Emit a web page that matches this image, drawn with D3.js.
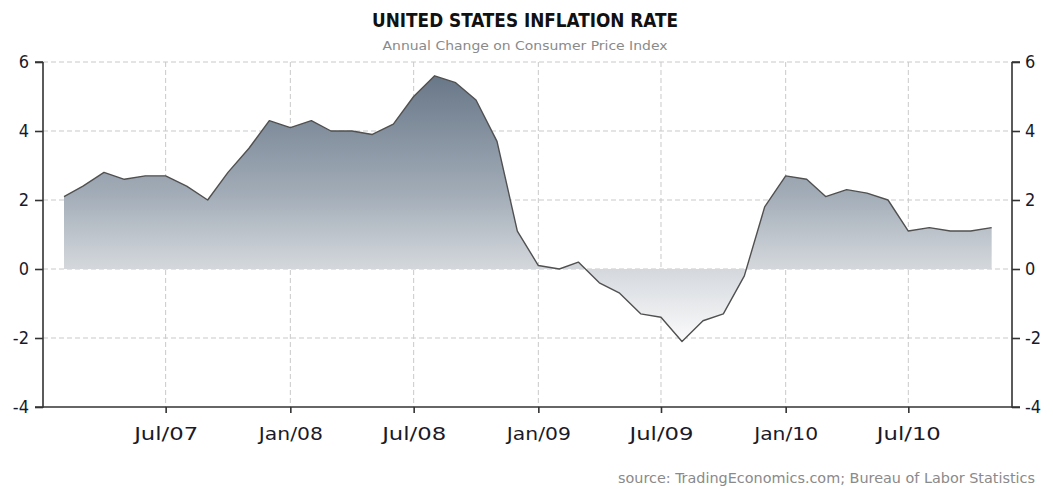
<!DOCTYPE html>
<html>
<head>
<meta charset="utf-8">
<script src="https://cdn.jsdelivr.net/npm/d3@7/dist/d3.min.js"></script>
<style>
  html, body { margin: 0; padding: 0; background: #fff; }
  svg { display: block; }
  text { font-family: "DejaVu Sans Condensed", "Liberation Sans Narrow", sans-serif; }
</style>
</head>
<body>
<svg id="chart" width="1053" height="489"></svg>
<script>
// Monthly CPI YoY (month of observation)
const months = [
  "2007-01","2007-02","2007-03","2007-04","2007-05","2007-06","2007-07","2007-08","2007-09","2007-10","2007-11","2007-12",
  "2008-01","2008-02","2008-03","2008-04","2008-05","2008-06","2008-07","2008-08","2008-09","2008-10","2008-11","2008-12",
  "2009-01","2009-02","2009-03","2009-04","2009-05","2009-06","2009-07","2009-08","2009-09","2009-10","2009-11","2009-12",
  "2010-01","2010-02","2010-03","2010-04","2010-05","2010-06","2010-07","2010-08","2010-09","2010-10"
];
const values = [
  2.1, 2.4, 2.8, 2.6, 2.7, 2.7, 2.4, 2.0, 2.8, 3.5, 4.3, 4.1,
  4.3, 4.0, 4.0, 3.9, 4.2, 5.0, 5.6, 5.4, 4.9, 3.7, 1.1, 0.1,
  0.0, 0.2, -0.4, -0.7, -1.3, -1.4, -2.1, -1.5, -1.3, -0.2, 1.8, 2.7,
  2.6, 2.1, 2.3, 2.2, 2.0, 1.1, 1.2, 1.1, 1.1, 1.2
];
const yTicks = [-4, -2, 0, 2, 4, 6];
const xTickDates = ["2007-07","2008-01","2008-07","2009-01","2009-07","2010-01","2010-07"];
const xDomain = ["2007-01","2010-12"];
const titleText = "UNITED STATES INFLATION RATE";
const subtitleText = "Annual Change on Consumer Price Index";
const sourceText = "source: TradingEconomics.com; Bureau of Labor Statistics";

const parse = d3.timeParse("%Y-%m");
const fmt = d3.timeFormat("%b/%y");
// each observation is plotted at the end of its month
const data = months.map((m, i) => ({ date: d3.timeMonth.offset(parse(m), 1), value: values[i] }));

const svg = d3.select("#chart");
const L = 43, R = 1012, T = 62, B = 407;

const x = d3.scaleTime().domain(xDomain.map(parse)).range([L, R]);
const y = d3.scaleLinear().domain([-4, 6]).range([B, T]);

// gradient
const defs = svg.append("defs");
const grad = defs.append("linearGradient")
  .attr("id", "areaGrad")
  .attr("gradientUnits", "userSpaceOnUse")
  .attr("x1", 0).attr("x2", 0)
  .attr("y1", y(d3.max(values))).attr("y2", y(d3.min(values)));
grad.append("stop").attr("offset", 0).attr("stop-color", "#687788");
grad.append("stop").attr("offset", 0.45).attr("stop-color", "#a3adb8");
grad.append("stop").attr("offset", 0.72).attr("stop-color", "#d3d7dc");
grad.append("stop").attr("offset", 1).attr("stop-color", "#fbfbfc");

// gridlines
const grid = svg.append("g");
grid.selectAll("line.h").data(yTicks.filter(v => v > -4)).enter().append("line")
  .attr("x1", L).attr("x2", R)
  .attr("y1", d => y(d)).attr("y2", d => y(d))
  .attr("stroke", "#c9c9c9").attr("stroke-width", 1).attr("stroke-dasharray", "5,3");
grid.selectAll("line.v").data(xTickDates.map(parse)).enter().append("line")
  .attr("x1", d => x(d)).attr("x2", d => x(d))
  .attr("y1", T).attr("y2", B)
  .attr("stroke", "#c9c9c9").attr("stroke-width", 1).attr("stroke-dasharray", "5,3");

// area
const area = d3.area().x(d => x(d.date)).y0(y(0)).y1(d => y(d.value));
svg.append("path").datum(data).attr("d", area).attr("fill", "url(#areaGrad)");
const line = d3.line().x(d => x(d.date)).y(d => y(d.value));
svg.append("path").datum(data).attr("d", line)
  .attr("fill", "none").attr("stroke", "#505050").attr("stroke-width", 1.4)
  .attr("stroke-linejoin", "round");

// axes
const axisColor = "#333";
const yFmt = d => String(d);
const left = svg.append("g").attr("transform", `translate(${L},0)`)
  .call(d3.axisLeft(y).tickValues(yTicks).tickSize(8).tickPadding(6).tickFormat(yFmt));
const right = svg.append("g").attr("transform", `translate(${R},0)`)
  .call(d3.axisRight(y).tickValues(yTicks).tickSize(8).tickPadding(5).tickFormat(yFmt));
const bottom = svg.append("g").attr("transform", `translate(0,${B})`)
  .call(d3.axisBottom(x).tickValues(xTickDates.map(parse)).tickSize(6).tickPadding(14).tickFormat(fmt));

[left, right, bottom].forEach(g => {
  g.select(".domain").attr("stroke", axisColor).attr("stroke-width", 1.6);
  g.selectAll(".tick line").attr("stroke", axisColor).attr("stroke-width", 1.6);
  g.selectAll(".tick text").attr("fill", "#1a1a2a");
});
left.select(".domain").attr("d", `M0,${T}H-8M0,${T}V${B}H-8`);
right.select(".domain").attr("d", `M0,${T}H8M0,${T}V${B}H8`);
bottom.select(".domain").attr("d", `M${L},0H${R}`);
left.selectAll(".tick text").attr("font-size", 18);
right.selectAll(".tick text").attr("font-size", 18);
bottom.selectAll(".tick text").attr("font-size", 18).attr("dy", "0.71em")
  .attr("textLength", 64).attr("lengthAdjust", "spacingAndGlyphs");

// titles
svg.append("text").attr("x", 525).attr("y", 27).attr("text-anchor", "middle")
  .attr("font-size", 19).attr("font-weight", "bold").attr("fill", "#111")
  .attr("textLength", 306).attr("lengthAdjust", "spacingAndGlyphs")
  .text(titleText);
svg.append("text").attr("x", 525).attr("y", 50).attr("text-anchor", "middle")
  .attr("font-size", 13).attr("fill", "#8a8a8a")
  .attr("textLength", 285).attr("lengthAdjust", "spacingAndGlyphs")
  .text(subtitleText);
svg.append("text").attr("x", 1035).attr("y", 483).attr("text-anchor", "end")
  .attr("font-size", 14).attr("fill", "#8a8a8a")
  .attr("textLength", 417).attr("lengthAdjust", "spacingAndGlyphs")
  .text(sourceText);
</script>
</body>
</html>
